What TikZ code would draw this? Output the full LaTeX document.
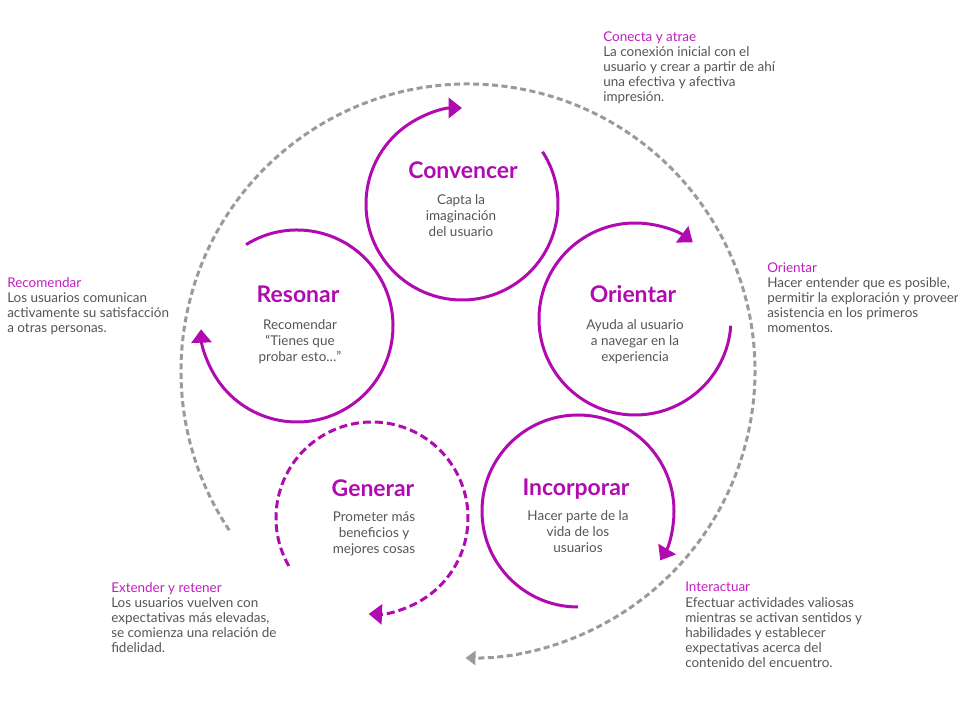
\documentclass[tikz,border=0pt]{standalone}
\usepackage{fontspec}
\setmainfont{Lato}
\usetikzlibrary{arrows.meta}
\definecolor{ciclo}{HTML}{B00BB0}
\definecolor{etiqueta}{HTML}{C01EC0}
\definecolor{texto}{HTML}{555555}
\definecolor{guia}{HTML}{9A9A9A}

\begin{document}
\begin{tikzpicture}[x=0.75pt, y=0.75pt,
    loop/.style={ciclo, line width=2.25pt, -{Triangle[length=10pt,width=15pt]}},
    titulo/.style={ciclo, font=\fontsize{17.2}{20}\selectfont\bfseries, inner sep=0pt, anchor=base},
    cuerpo/.style={texto, font=\fontsize{10.1}{12.2}\selectfont, align=center, inner sep=0pt, anchor=base},
    nota/.style={texto, font=\fontsize{10.1}{11.4}\selectfont, align=left, inner sep=0pt, anchor=base west}]
    \def\R{96}
    \useasboundingbox (0,0) rectangle (958,724);

    \draw[guia, line width=2.25pt, dash pattern=on 4.5pt off 2.6pt, -{Triangle[length=7.5pt,width=10.5pt]}]
        (468,353) ++(213.7:287) arc[start angle=213.7, end angle=-90.5, radius=287];

    \draw[loop] (462,520) ++(33:\R) arc[start angle=33, end angle=-270, radius=\R];
    \draw[loop] (635,405) ++(-4:\R) arc[start angle=-4, end angle=-307, radius=\R];
    \draw[loop] (297,398) ++(122:\R) arc[start angle=122, end angle=-178, radius=\R];
    \draw[loop, dash pattern=on 6pt off 3pt] (372,206) ++(210:\R) arc[start angle=210, end angle=-92, radius=\R];
    \draw[loop] (578,213) ++(-90:\R) arc[start angle=-90, end angle=-391, radius=\R];

    \node[titulo] (convencer) at (463,545) {Convencer};
    \node[cuerpo] (convencer-txt) at (461,487) {Capta la\\imaginación\\del usuario};
    \node[titulo] (orientar) at (633,421) {Orientar};
    \node[cuerpo] (orientar-txt) at (635,362) {Ayuda al usuario\\a navegar en la\\experiencia};
    \node[titulo] (resonar) at (298,421) {Resonar};
    \node[cuerpo] (resonar-txt) at (300,362) {Recomendar\\“Tienes que\\probar esto…”};
    \node[titulo] (generar) at (373,227) {Generar};
    \node[cuerpo] (generar-txt) at (374,170) {Prometer más\\beneficios y\\mejores cosas};
    \node[titulo] (incorporar) at (576,228) {Incorporar};
    \node[cuerpo] (incorporar-txt) at (578,171) {Hacer parte de la\\vida de los\\usuarios};

    \node[nota] (conecta) at (603,622) {{\color{etiqueta}Conecta y atrae}\\La conexión inicial con el\\usuario y crear a partir de ahí\\una efectiva y afectiva\\impresión.};
    \node[nota] (recomendar) at (7,391) {{\color{etiqueta}Recomendar}\\Los usuarios comunican\\activamente su satisfacción\\a otras personas.};
    \node[nota] (orientar-nota) at (767,391) {{\color{etiqueta}Orientar}\\Hacer entender que es posible,\\permitir la exploración y proveer\\asistencia en los primeros\\momentos.};
    \node[nota] (extender) at (111,71) {{\color{etiqueta}Extender y retener}\\Los usuarios vuelven con\\expectativas más elevadas,\\se comienza una relación de\\fidelidad.};
    \node[nota] (interactuar) at (685,56) {{\color{etiqueta}Interactuar}\\Efectuar actividades valiosas\\mientras se activan sentidos y\\habilidades y establecer\\expectativas acerca del\\contenido del encuentro.};
\end{tikzpicture}
\end{document}
